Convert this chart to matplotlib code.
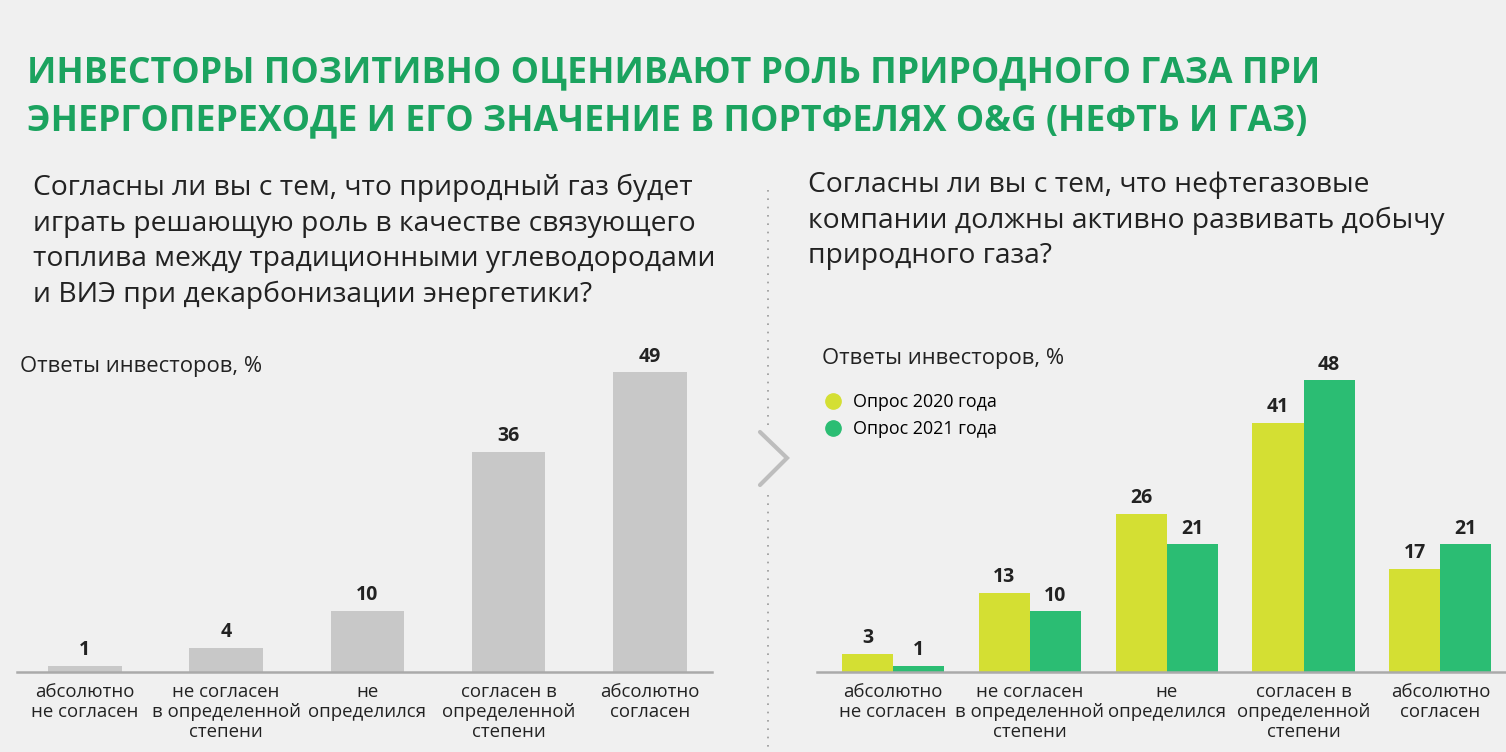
import matplotlib.pyplot as plt
from matplotlib.lines import Line2D

# данные
categories = ["абсолютно\nне согласен", "не согласен\nв определенной\nстепени",
              "не\nопределился", "согласен в\nопределенной\nстепени", "абсолютно\nсогласен"]
left_values = [1, 4, 10, 36, 49]
survey_2020 = [3, 13, 26, 41, 17]
survey_2021 = [1, 10, 21, 48, 21]
series_names = ["Опрос 2020 года", "Опрос 2021 года"]

title_lines = ["ИНВЕСТОРЫ ПОЗИТИВНО ОЦЕНИВАЮТ РОЛЬ ПРИРОДНОГО ГАЗА ПРИ",
               "ЭНЕРГОПЕРЕХОДЕ И ЕГО ЗНАЧЕНИЕ В ПОРТФЕЛЯХ O&G (НЕФТЬ И ГАЗ)"]
left_question = ["Согласны ли вы с тем, что природный газ будет",
                 "играть решающую роль в качестве связующего",
                 "топлива между традиционными углеводородами",
                 "и ВИЭ при декарбонизации энергетики?"]
right_question = ["Согласны ли вы с тем, что нефтегазовые",
                  "компании должны активно развивать добычу",
                  "природного газа?"]
units = "Ответы инвесторов, %"

BG = '#F0F0F0'
GREEN_T = '#1BA35F'
GRAY = '#C8C8C8'
YEL = '#D4DF33'
GRN = '#2BBD73'
TXT = '#222222'

plt.rcParams['font.family'] = ['Open Sans', 'DejaVu Sans']

W, H = 1506, 752
fig = plt.figure(figsize=(W / 100, H / 100), dpi=100)
fig.patch.set_facecolor(BG)


def fx(x):
    return x / W


def fy(y):
    return 1 - y / H


# заголовок
for i, line in enumerate(title_lines):
    fig.text(fx(27), fy(82 + i * 48), line, fontsize=25.7, fontweight='bold',
             color=GREEN_T, va='baseline', ha='left')

for i, line in enumerate(left_question):
    fig.text(fx(33), fy(195 + i * 35.7), line, fontsize=20.3, color=TXT, va='baseline')
for i, line in enumerate(right_question):
    fig.text(fx(808), fy(192 + i * 35.7), line, fontsize=20.3, color=TXT, va='baseline')

fig.text(fx(20), fy(372), units, fontsize=15.8, color=TXT, va='baseline')
fig.text(fx(822), fy(364), units, fontsize=15.8, color=TXT, va='baseline')

# левый график
ax1 = fig.add_axes([fx(17), fy(672), fx(712 - 17), (672 - 330) / H])
x = list(range(len(categories)))
ax1.bar(x, left_values, width=0.52, color=GRAY)
ax1.set_xlim(-0.48, 4.44)
ax1.set_ylim(0, 342 / 6.12)
for xi, v in zip(x, left_values):
    ax1.annotate(str(v), (xi, v), xytext=(0, 4), textcoords='offset points',
                 ha='center', va='bottom', fontsize=14, fontweight='bold', color=TXT)

# правый график
ax2 = fig.add_axes([fx(817), fy(672), fx(1506 - 817), (672 - 330) / H])
bw = 0.373
xa = [i - bw / 2 for i in x]
xb = [i + bw / 2 for i in x]
ax2.bar(xa, survey_2020, width=bw, color=YEL, label=series_names[0])
ax2.bar(xb, survey_2021, width=bw, color=GRN, label=series_names[1])
ax2.set_xlim(-0.556, 4.48)
ax2.set_ylim(0, 342 / 6.08)
for xs, vals in ((xa, survey_2020), (xb, survey_2021)):
    for xi, v in zip(xs, vals):
        ax2.annotate(str(v), (xi, v), xytext=(0, 4), textcoords='offset points',
                     ha='center', va='bottom', fontsize=14, fontweight='bold', color=TXT)

for ax in (ax1, ax2):
    ax.set_facecolor('none')
    for s in ('top', 'right', 'left'):
        ax.spines[s].set_visible(False)
    ax.spines['bottom'].set_color('#AAAAAA')
    ax.spines['bottom'].set_linewidth(1.8)
    ax.set_yticks([])
    ax.set_xticks(x)
    ax.set_xticklabels(categories, fontsize=13.4, color=TXT, linespacing=1.15, va='top')
    ax.tick_params(axis='x', length=0, pad=8)

handles = [Line2D([], [], marker='o', ls='none', markersize=11, color=c) for c in (YEL, GRN)]
ax2.legend(handles, series_names, loc='upper left', bbox_to_anchor=(fx(815), fy(384)),
           bbox_transform=fig.transFigure, frameon=False, fontsize=12.9,
           handletextpad=0.6, labelspacing=0.5, handlelength=1.0, borderpad=0)

# разделитель и стрелка
dots = dict(ls=(0, (1, 4)), color='#999999', lw=1.2)
fig.add_artist(Line2D([fx(768)] * 2, [fy(190), fy(425)], **dots))
fig.add_artist(Line2D([fx(768)] * 2, [fy(495), fy(752)], **dots))
fig.add_artist(Line2D([fx(760), fx(787), fx(760)], [fy(432), fy(458), fy(485)],
                      color='#BDBDBD', lw=3, solid_capstyle='round', solid_joinstyle='miter'))

fig.savefig('out.png', dpi=100, facecolor=BG)
